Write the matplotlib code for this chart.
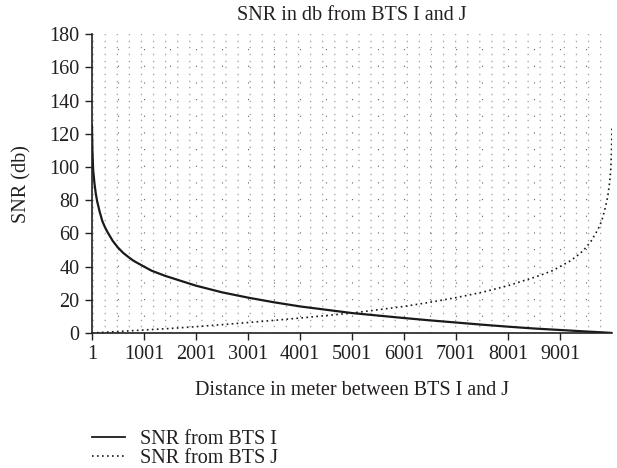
import matplotlib
matplotlib.use("Agg")
import matplotlib.pyplot as plt
from matplotlib.ticker import MultipleLocator
from matplotlib.lines import Line2D

plt.rcParams['font.family'] = ['Liberation Serif', 'DejaVu Serif']

# Data
dist_i = [1, 10, 25, 50, 75, 100, 150, 200, 250, 300, 400, 500, 600, 700, 800,
          1001, 1150, 1400, 1750, 2001, 2500, 3001, 3500, 4001, 4500, 5001,
          5500, 6001, 6500, 7001, 7500, 8001, 8500, 9001, 9500, 9800, 10000]
snr_i = [125, 110, 98, 90, 84, 79.5, 73, 67.5, 63.8, 60.8, 55.5, 51.5, 48.3, 45.8, 43.5,
         40, 37.5, 34.5, 31, 28.5, 24.5, 21.3, 18.5, 16, 14, 12,
         10.5, 9, 7.6, 6.3, 5, 3.8, 2.7, 1.8, 0.9, 0.4, 0]

dist_j = [1, 500, 1001, 1500, 2001, 2500, 3001, 3500, 4001, 4500, 5001, 5500,
          6001, 6500, 7001, 7500, 8001, 8250, 8600, 8850, 9001, 9200, 9300,
          9400, 9500, 9600, 9700, 9750, 9800, 9850, 9900, 9925, 9950, 9975,
          9990, 10000]
snr_j = [0, 0.9, 1.8, 2.7, 3.8, 5, 6.3, 7.6, 9, 10.5, 12, 14,
         16, 18.5, 21.3, 24.5, 28.5, 31, 34.5, 37.5, 40, 43.5, 45.8,
         48.3, 51.5, 55.5, 60.8, 63.8, 67.5, 73, 79.5, 84, 90, 98,
         110, 125]

x_ticks = [1, 1001, 2001, 3001, 4001, 5001, 6001, 7001, 8001, 9001]
y_ticks = [0, 20, 40, 60, 80, 100, 120, 140, 160, 180]

title = "SNR in db from BTS I and J"
xlabel = "Distance in meter between BTS I and J"
ylabel = "SNR (db)"
label_i = "SNR from BTS I"
label_j = "SNR from BTS J"

txt = '#231f20'
fs = 14.5
fig = plt.figure(figsize=(6.17, 4.68), dpi=100)
ax = fig.add_axes([0.149, 0.2885, 0.843, 0.6385])

# dotted background grid
ax.yaxis.set_minor_locator(MultipleLocator(4))
for w in ['minor', 'major']:
    ax.grid(which=w, axis='y', color='#a0a0a0', linewidth=1.0,
            linestyle=(0, (0.9, 7.8)))
ax.xaxis.set_minor_locator(MultipleLocator(500))
ax.grid(which='minor', axis='x', color='#606060', linewidth=0.8,
        linestyle=(0, (1.0, 14.0)))
ax.tick_params(which='minor', length=0)
ax.set_axisbelow(True)

ax.plot(dist_i, snr_i, color='#1a1a1a', linewidth=1.6, solid_joinstyle='round')
ax.plot(dist_j, snr_j, color='#1a1a1a', linewidth=1.2, linestyle=(0, (1, 2)))

ax.set_xlim(1, 10000)
ax.set_ylim(0, 180)
ax.set_xticks(x_ticks)
ax.set_xticklabels([str(v) for v in x_ticks])
ax.set_yticks(y_ticks)

for s in ['top', 'right']:
    ax.spines[s].set_visible(False)
for s in ['left', 'bottom']:
    ax.spines[s].set_color('#231f20')
    ax.spines[s].set_linewidth(1.2)

ax.tick_params(axis='both', which='major', direction='out', length=5,
               width=1.0, colors=txt, labelsize=fs, pad=4)

ax.set_title(title, fontsize=fs, color=txt, pad=10.5)
ax.set_xlabel(xlabel, fontsize=fs, color=txt, labelpad=12)
ax.set_ylabel(ylabel, fontsize=fs, color=txt, labelpad=13)

handles = [Line2D([], [], color='#1a1a1a', linewidth=1.3),
           Line2D([], [], color='#1a1a1a', linewidth=1.2, linestyle=(0, (1, 2)))]
fig.legend(handles, [label_i, label_j], loc='upper left',
           bbox_to_anchor=(0.149, 0.082), frameon=False, fontsize=fs,
           labelcolor=txt, handlelength=1.65, handletextpad=0.75,
           labelspacing=0.0, borderaxespad=0, borderpad=0)

fig.savefig('out.png', dpi=100)
